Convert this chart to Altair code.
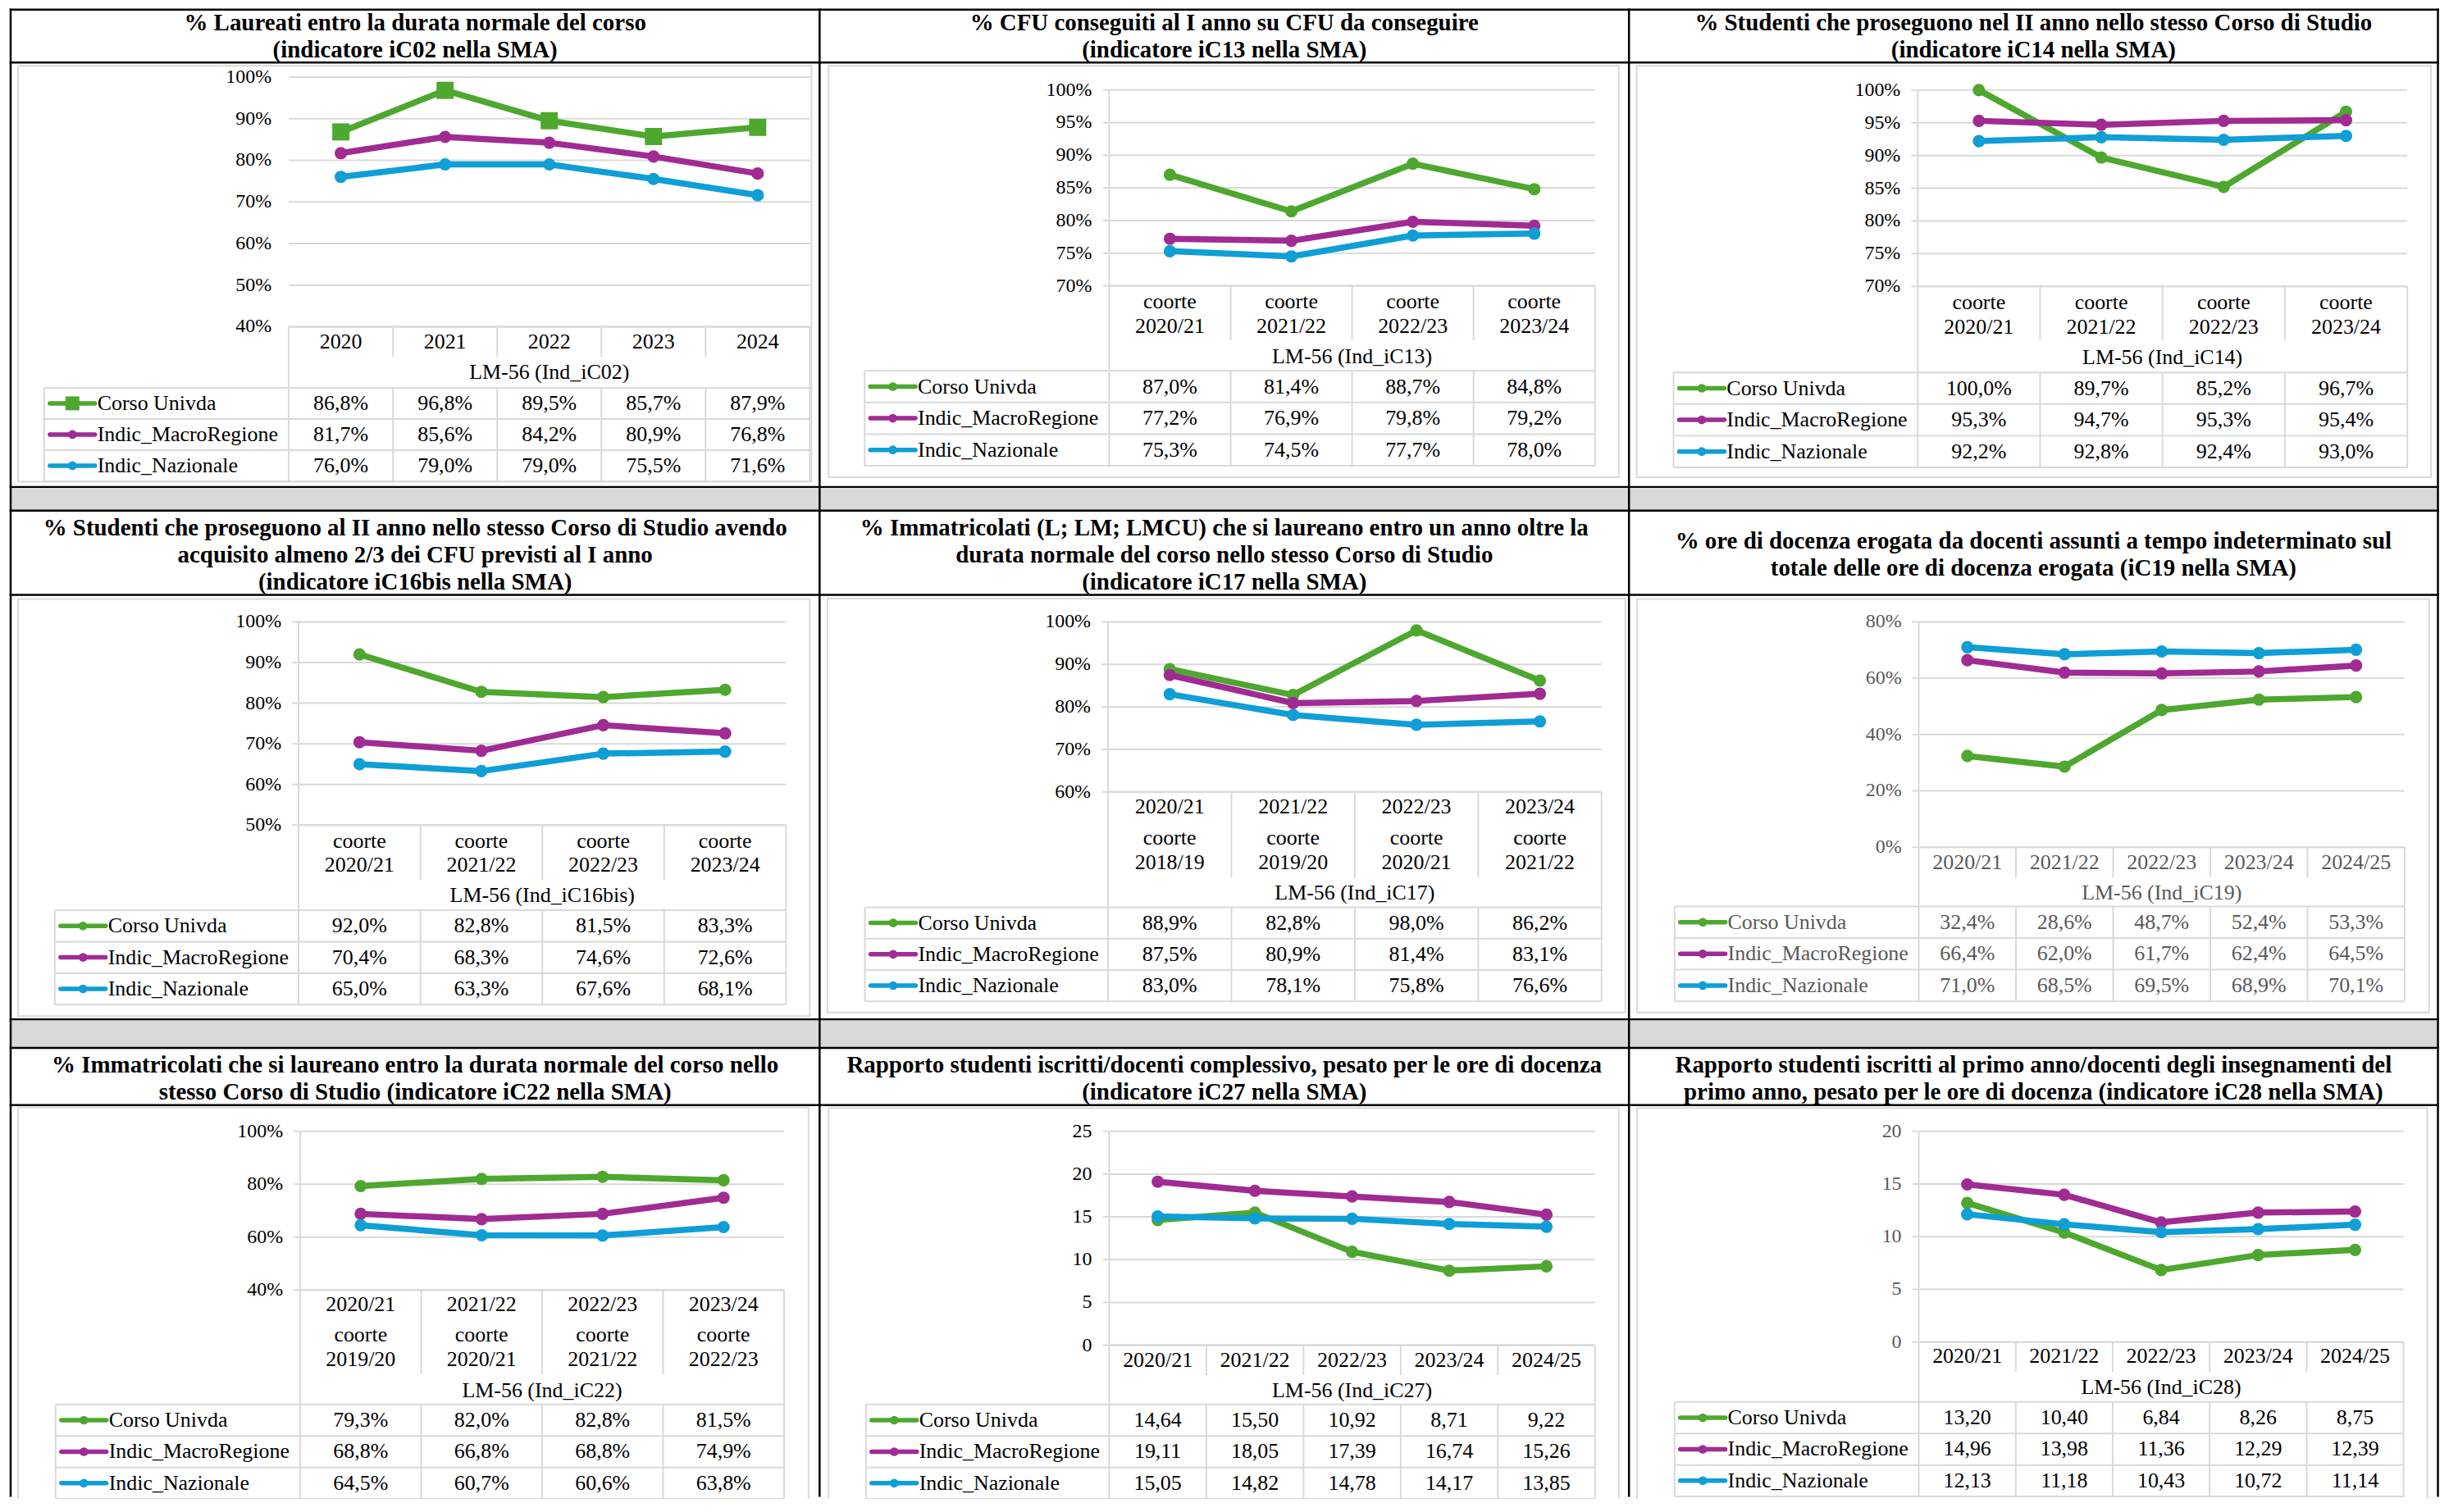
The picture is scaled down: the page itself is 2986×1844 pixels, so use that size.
import altair as alt
import pandas as pd

# ---------------- data ----------------
SERIES = ["Corso Univda", "Indic_MacroRegione", "Indic_Nazionale"]
COLORS = ["#4EA72E", "#A02B93", "#0F9ED5"]

TITLES = [
    "% Laureati entro la durata normale del corso\n(indicatore iC02 nella SMA)",
    "% CFU conseguiti al I anno su CFU da conseguire\n(indicatore iC13 nella SMA)",
    "% Studenti che proseguono nel II anno nello stesso Corso di Studio\n(indicatore iC14 nella SMA)",
    "% Studenti che proseguono al II anno nello stesso Corso di Studio avendo\nacquisito almeno 2/3 dei CFU previsti al I anno\n(indicatore iC16bis nella SMA)",
    "% Immatricolati (L; LM; LMCU) che si laureano entro un anno oltre la\ndurata normale del corso nello stesso Corso di Studio\n(indicatore iC17 nella SMA)",
    "% ore di docenza erogata da docenti assunti a tempo indeterminato sul\ntotale delle ore di docenza erogata (iC19 nella SMA)",
    "% Immatricolati che si laureano entro la durata normale del corso nello\nstesso Corso di Studio (indicatore iC22 nella SMA)",
    "Rapporto studenti iscritti/docenti complessivo, pesato per le ore di docenza\n(indicatore iC27 nella SMA)",
    "Rapporto studenti iscritti al primo anno/docenti degli insegnamenti del\nprimo anno, pesato per le ore di docenza (indicatore iC28 nella SMA)",
]
AXIS_TITLES = ["LM-56 (Ind_iC02)", "LM-56 (Ind_iC13)", "LM-56 (Ind_iC14)",
               "LM-56 (Ind_iC16bis)", "LM-56 (Ind_iC17)", "LM-56 (Ind_iC19)",
               "LM-56 (Ind_iC22)", "LM-56 (Ind_iC27)", "LM-56 (Ind_iC28)"]

CATS_YEARS = ["2020", "2021", "2022", "2023", "2024"]
CATS_COORTE = ["coorte\n2020/21", "coorte\n2021/22", "coorte\n2022/23", "coorte\n2023/24"]
CATS_AY = ["2020/21", "2021/22", "2022/23", "2023/24", "2024/25"]
CATS_IC17 = ["2020/21\ncoorte\n2018/19", "2021/22\ncoorte\n2019/20",
             "2022/23\ncoorte\n2020/21", "2023/24\ncoorte\n2021/22"]
CATS_IC22 = ["2020/21\ncoorte\n2019/20", "2021/22\ncoorte\n2020/21",
             "2022/23\ncoorte\n2021/22", "2023/24\ncoorte\n2022/23"]

IC02_CORSO = [86.8, 96.8, 89.5, 85.7, 87.9]
IC02_MACRO = [81.7, 85.6, 84.2, 80.9, 76.8]
IC02_NAZ = [76.0, 79.0, 79.0, 75.5, 71.6]

IC13_CORSO = [87.0, 81.4, 88.7, 84.8]
IC13_MACRO = [77.2, 76.9, 79.8, 79.2]
IC13_NAZ = [75.3, 74.5, 77.7, 78.0]

IC14_CORSO = [100.0, 89.7, 85.2, 96.7]
IC14_MACRO = [95.3, 94.7, 95.3, 95.4]
IC14_NAZ = [92.2, 92.8, 92.4, 93.0]

IC16_CORSO = [92.0, 82.8, 81.5, 83.3]
IC16_MACRO = [70.4, 68.3, 74.6, 72.6]
IC16_NAZ = [65.0, 63.3, 67.6, 68.1]

IC17_CORSO = [88.9, 82.8, 98.0, 86.2]
IC17_MACRO = [87.5, 80.9, 81.4, 83.1]
IC17_NAZ = [83.0, 78.1, 75.8, 76.6]

IC19_CORSO = [32.4, 28.6, 48.7, 52.4, 53.3]
IC19_MACRO = [66.4, 62.0, 61.7, 62.4, 64.5]
IC19_NAZ = [71.0, 68.5, 69.5, 68.9, 70.1]

IC22_CORSO = [79.3, 82.0, 82.8, 81.5]
IC22_MACRO = [68.8, 66.8, 68.8, 74.9]
IC22_NAZ = [64.5, 60.7, 60.6, 63.8]

IC27_CORSO = [14.64, 15.50, 10.92, 8.71, 9.22]
IC27_MACRO = [19.11, 18.05, 17.39, 16.74, 15.26]
IC27_NAZ = [15.05, 14.82, 14.78, 14.17, 13.85]

IC28_CORSO = [13.20, 10.40, 6.84, 8.26, 8.75]
IC28_MACRO = [14.96, 13.98, 11.36, 12.29, 12.39]
IC28_NAZ = [12.13, 11.18, 10.43, 10.72, 11.14]

TICKS_40_100_10 = [40, 50, 60, 70, 80, 90, 100]
TICKS_70_100_5 = [70, 75, 80, 85, 90, 95, 100]
TICKS_50_100_10 = [50, 60, 70, 80, 90, 100]
TICKS_60_100_10 = [60, 70, 80, 90, 100]
TICKS_0_80_20 = [0, 20, 40, 60, 80]
TICKS_40_100_20 = [40, 60, 80, 100]
TICKS_0_25_5 = [0, 5, 10, 15, 20, 25]
TICKS_0_20_5 = [0, 5, 10, 15, 20]

LABELS_40_100_10 = ["40%", "50%", "60%", "70%", "80%", "90%", "100%"]
LABELS_70_100_5 = ["70%", "75%", "80%", "85%", "90%", "95%", "100%"]
LABELS_50_100_10 = ["50%", "60%", "70%", "80%", "90%", "100%"]
LABELS_60_100_10 = ["60%", "70%", "80%", "90%", "100%"]
LABELS_0_80_20 = ["0%", "20%", "40%", "60%", "80%"]
LABELS_40_100_20 = ["40%", "60%", "80%", "100%"]
LABELS_0_25_5 = ["0", "5", "10", "15", "20", "25"]
LABELS_0_20_5 = ["0", "5", "10", "15", "20"]

# ---------------- layout (page pixels) ----------------
OFF = 8
W, H = 2978, 1820
FONT = "Liberation Serif"
GRID = "#D9D9D9"
BAND = "#D9D9D9"
GRAYTXT = "#595959"

COL_X = [13, 1002, 1991.5, 2980.5]
TITLE_FIRST_Y = [26, 26, 26, 643, 643, 659.5, 1300, 1300, 1300]
TITLE_LH = 33
H_LINES = [6, 74, 593, 622, 725, 1244, 1279, 1349]
BANDS = [(593, 622), (1244, 1279)]

LAYOUT = [
    dict(pl=353, pr=990, ytop=91.7, ybot=397, hbot=434, hl=[415.5], lm=453,
         dtop=471.7, dbot=586, tl=54, axis=False, frame=(22, 78, 992, 586.7)),
    dict(pl=1356, pr=1950, ytop=107.5, ybot=347, hbot=414, hl=[367, 396.6], lm=434,
         dtop=451, dbot=567, tl=1057, axis=True, frame=(1013, 78, 1979, 581)),
    dict(pl=2344.5, pr=2943, ytop=107.7, ybot=347.7, hbot=414, hl=[367.7, 397.4], lm=435,
         dtop=453, dbot=569, tl=2046, axis=True, frame=(2001, 78, 2972, 581)),
    dict(pl=365, pr=961, ytop=758, ybot=1006.6, hbot=1073.5, hl=[1026, 1055.4], lm=1092.4,
         dtop=1110.5, dbot=1226, tl=67, axis=True, frame=(22, 730, 990, 1240)),
    dict(pl=1354.6, pr=1958, ytop=758, ybot=966, hbot=1070.5, hl=[984, 1022, 1052], lm=1089,
         dtop=1107, dbot=1222, tl=1057.4, axis=True, frame=(1011.5, 729.6, 1987, 1235.5)),
    dict(pl=2345.8, pr=2939.8, ytop=758, ybot=1033.5, hbot=1070.5, hl=[1052.4], lm=1089,
         dtop=1106, dbot=1222, tl=2047.2, axis=True, frame=(2001.4, 730, 2969.7, 1235.5)),
    dict(pl=367, pr=958.5, ytop=1381, ybot=1575, hbot=1678, hl=[1592.5, 1630, 1660], lm=1698.4,
         dtop=1715, dbot=1830.5, tl=68, axis=True, frame=(22, 1352, 988.5, 1842)),
    dict(pl=1356, pr=1950, ytop=1381, ybot=1642.5, hbot=1679, hl=[1660.6], lm=1698.4,
         dtop=1715, dbot=1830.5, tl=1058.7, axis=True, frame=(1013, 1352.5, 1979, 1841)),
    dict(pl=2345.8, pr=2938.5, ytop=1381, ybot=1638.7, hbot=1675, hl=[1656], lm=1693.8,
         dtop=1712, dbot=1827.5, tl=2047.2, axis=True, frame=(2001.4, 1352.5, 2967.5, 1838)),
]

PANELS = [
    dict(cats=CATS_YEARS, vals=[IC02_CORSO, IC02_MACRO, IC02_NAZ], ticks=TICKS_40_100_10,
         tlab=LABELS_40_100_10, fmt="pct", square=True, tcol="black", ycol="black"),
    dict(cats=CATS_COORTE, vals=[IC13_CORSO, IC13_MACRO, IC13_NAZ], ticks=TICKS_70_100_5,
         tlab=LABELS_70_100_5, fmt="pct", square=False, tcol="black", ycol="black"),
    dict(cats=CATS_COORTE, vals=[IC14_CORSO, IC14_MACRO, IC14_NAZ], ticks=TICKS_70_100_5,
         tlab=LABELS_70_100_5, fmt="pct", square=False, tcol="black", ycol="black"),
    dict(cats=CATS_COORTE, vals=[IC16_CORSO, IC16_MACRO, IC16_NAZ], ticks=TICKS_50_100_10,
         tlab=LABELS_50_100_10, fmt="pct", square=False, tcol="black", ycol="black"),
    dict(cats=CATS_IC17, vals=[IC17_CORSO, IC17_MACRO, IC17_NAZ], ticks=TICKS_60_100_10,
         tlab=LABELS_60_100_10, fmt="pct", square=False, tcol="black", ycol="black"),
    dict(cats=CATS_AY, vals=[IC19_CORSO, IC19_MACRO, IC19_NAZ], ticks=TICKS_0_80_20,
         tlab=LABELS_0_80_20, fmt="pct", square=False, tcol=GRAYTXT, ycol=GRAYTXT),
    dict(cats=CATS_IC22, vals=[IC22_CORSO, IC22_MACRO, IC22_NAZ], ticks=TICKS_40_100_20,
         tlab=LABELS_40_100_20, fmt="pct", square=False, tcol="black", ycol="black"),
    dict(cats=CATS_AY, vals=[IC27_CORSO, IC27_MACRO, IC27_NAZ], ticks=TICKS_0_25_5,
         tlab=LABELS_0_25_5, fmt="num", square=False, tcol="black", ycol="black"),
    dict(cats=CATS_AY, vals=[IC28_CORSO, IC28_MACRO, IC28_NAZ], ticks=TICKS_0_20_5,
         tlab=LABELS_0_20_5, fmt="num", square=False, tcol="black", ycol=GRAYTXT),
]


def fmt(v, kind):
    if kind == "pct":
        return f"{v:.1f}%".replace(".", ",")
    return f"{v:.2f}".replace(".", ",")


def c(v):
    return v - OFF


ONE = pd.DataFrame({"a": [0]})
LINE_W = 7.5
PT_SIZE = 230
SQ_SIZE = 440


def build_panel(idx):
    P = PANELS[idx]
    L = LAYOUT[idx]
    n = len(P["cats"])
    ymin, ymax = P["ticks"][0], P["ticks"][-1]
    xs = alt.Scale(domain=[-0.5, n - 0.5], range=[c(L["pl"]), c(L["pr"])], nice=False, zero=False)
    ys = alt.Scale(domain=[ymin, ymax], range=[c(L["ybot"]), c(L["ytop"])], nice=False, zero=False)
    ts = alt.Scale(domain=[-0.5, 2.5], range=[c(L["dtop"]), c(L["dbot"])], nice=False, zero=False)
    cs = alt.Scale(domain=SERIES, range=COLORS)

    rows = []
    for si, s in enumerate(SERIES):
        for i, v in enumerate(P["vals"][si]):
            rows.append({"i": i, "s": s, "r": si, "v": v, "lab": fmt(v, P["fmt"])})
    df = pd.DataFrame(rows)
    ticks = pd.DataFrame({"t": P["ticks"], "lab": P["tlab"]})
    leg = pd.DataFrame({"s": SERIES, "r": list(range(len(SERIES)))})

    X = lambda f: alt.X(f, scale=xs, axis=None)
    Y = lambda f: alt.Y(f, scale=ys, axis=None)
    T = lambda f: alt.Y(f, scale=ts, axis=None)
    col = alt.Color("s:N", scale=cs, legend=None)

    # ---- plot part ----
    plot_layers = []
    plot_layers.append(
        alt.Chart(ticks).mark_rule(color=GRID, strokeWidth=2).encode(
            y=Y("t:Q"), x=alt.value(c(L["pl"])), x2=alt.value(c(L["pr"])))
    )
    if L["axis"]:
        plot_layers.append(
            alt.Chart(ONE).mark_rule(color=GRID, strokeWidth=2).encode(
                x=alt.value(c(L["pl"])), y=alt.value(c(L["ytop"])), y2=alt.value(c(L["ybot"])))
        )
        plot_layers.append(
            alt.Chart(ticks).mark_rule(color=GRID, strokeWidth=2).encode(
                y=Y("t:Q"), x=alt.value(c(L["pl"] - 8)), x2=alt.value(c(L["pl"])))
        )
    plot_layers.append(
        alt.Chart(ticks).mark_text(align="right", baseline="middle", font=FONT, fontSize=24,
                                   color=P["ycol"]).encode(
            y=Y("t:Q"), x=alt.value(c(L["pl"] - 21)), text="lab:N")
    )
    plot_layers.append(
        alt.Chart(df).mark_line(strokeWidth=LINE_W, strokeCap="round", strokeJoin="round").encode(
            x=X("i:Q"), y=Y("v:Q"), color=col)
    )
    if P["square"]:
        plot_layers.append(
            alt.Chart(df).transform_filter(alt.datum.s != SERIES[0]).mark_point(
                filled=True, shape="circle", size=PT_SIZE, opacity=1).encode(x=X("i:Q"), y=Y("v:Q"), color=col)
        )
        plot_layers.append(
            alt.Chart(df).transform_filter(alt.datum.s == SERIES[0]).mark_point(
                filled=True, shape="square", size=SQ_SIZE, opacity=1).encode(x=X("i:Q"), y=Y("v:Q"), color=col)
        )
    else:
        plot_layers.append(
            alt.Chart(df).mark_point(filled=True, shape="circle", size=PT_SIZE, opacity=1).encode(
                x=X("i:Q"), y=Y("v:Q"), color=col)
        )
    plot = alt.layer(*plot_layers)

    # ---- table part ----
    bnd = [k - 0.5 for k in range(n + 1)]
    inner = pd.DataFrame({"b": bnd[1:-1]})
    outer = pd.DataFrame({"b": [bnd[0], bnd[-1]]})
    allb = pd.DataFrame({"b": bnd})
    rowb = pd.DataFrame({"b": [-0.5, 0.5, 1.5, 2.5]})
    tl = []
    tl.append(alt.Chart(ONE).mark_rule(color=GRID, strokeWidth=2).encode(
        y=alt.value(c(L["ybot"])), x=alt.value(c(L["pl"])), x2=alt.value(c(L["pr"]))))
    tl.append(alt.Chart(inner).mark_rule(color=GRID, strokeWidth=2).encode(
        x=X("b:Q"), y=alt.value(c(L["ybot"])), y2=alt.value(c(L["hbot"]))))
    tl.append(alt.Chart(outer).mark_rule(color=GRID, strokeWidth=2).encode(
        x=X("b:Q"), y=alt.value(c(L["ybot"])), y2=alt.value(c(L["dtop"]))))
    tl.append(alt.Chart(allb).mark_rule(color=GRID, strokeWidth=2).encode(
        x=X("b:Q"), y=alt.value(c(L["dtop"])), y2=alt.value(c(L["dbot"]))))
    tl.append(alt.Chart(ONE).mark_rule(color=GRID, strokeWidth=2).encode(
        x=alt.value(c(L["tl"])), y=alt.value(c(L["dtop"])), y2=alt.value(c(L["dbot"]))))
    tl.append(alt.Chart(rowb).mark_rule(color=GRID, strokeWidth=2).encode(
        y=T("b:Q"), x=alt.value(c(L["tl"])), x2=alt.value(c(L["pr"]))))
    nlines = len(L["hl"])
    for k in range(nlines):
        hd = pd.DataFrame({"i": list(range(n)), "lab": [cat.split("\n")[k] for cat in P["cats"]]})
        tl.append(alt.Chart(hd).mark_text(font=FONT, fontSize=26, color=P["tcol"], baseline="middle").encode(
            x=X("i:Q"), y=alt.value(c(L["hl"][k])), text="lab:N"))
    lm = pd.DataFrame({"t": [AXIS_TITLES[idx]]})
    tl.append(alt.Chart(lm).mark_text(font=FONT, fontSize=26, color=P["tcol"], baseline="middle").encode(
        x=alt.value(c((L["pl"] + L["pr"]) / 2)), y=alt.value(c(L["lm"])), text="t:N"))
    tl.append(alt.Chart(df).mark_text(font=FONT, fontSize=26, color=P["tcol"], baseline="middle").encode(
        x=X("i:Q"), y=T("r:Q"), text="lab:N"))
    tl.append(alt.Chart(leg).mark_rule(strokeWidth=5.5, strokeCap="round").encode(
        x=alt.value(c(L["tl"] + 7)), x2=alt.value(c(L["tl"] + 62)), y=T("r:Q"), color=col))
    if P["square"]:
        tl.append(alt.Chart(leg).transform_filter(alt.datum.s != SERIES[0]).mark_point(
            filled=True, shape="circle", size=113, opacity=1).encode(
            x=alt.value(c(L["tl"] + 34.5)), y=T("r:Q"), color=col))
        tl.append(alt.Chart(leg).transform_filter(alt.datum.s == SERIES[0]).mark_point(
            filled=True, shape="square", size=289, opacity=1).encode(
            x=alt.value(c(L["tl"] + 34.5)), y=T("r:Q"), color=col))
    else:
        tl.append(alt.Chart(leg).mark_point(filled=True, shape="circle", size=113, opacity=1).encode(
            x=alt.value(c(L["tl"] + 34.5)), y=T("r:Q"), color=col))
    tl.append(alt.Chart(leg).mark_text(font=FONT, fontSize=26, color=P["tcol"], align="left",
                                       baseline="middle").encode(
        x=alt.value(c(L["tl"] + 65)), y=T("r:Q"), text="s:N"))
    table = alt.layer(*tl)

    return alt.layer(plot, table).resolve_scale(y="independent")


# ---------------- decoration ----------------
frames = pd.DataFrame([{"x0": c(L["frame"][0]), "y0": c(L["frame"][1]),
                        "x1": c(L["frame"][2]), "y1": c(L["frame"][3])} for L in LAYOUT])
bands = pd.DataFrame([{"x0": c(COL_X[0]), "x1": c(COL_X[-1]), "y0": c(a), "y1": c(b)} for a, b in BANDS])
blk = []
for y in H_LINES:
    yy = max(c(y), 1.25)
    blk.append({"x0": c(COL_X[0]) - 1.25, "x1": c(COL_X[-1]) + 1.25, "y0": yy - 1.25, "y1": yy + 1.25})
for x in COL_X:
    blk.append({"x0": c(x) - 1.25, "x1": c(x) + 1.25, "y0": 0, "y1": H})
blk = pd.DataFrame(blk)
tit = []
for k, t in enumerate(TITLES):
    r, cc = divmod(k, 3)
    tit.append({"x": c((COL_X[cc] + COL_X[cc + 1]) / 2), "y": c(TITLE_FIRST_Y[k]), "t": t})
tit = pd.DataFrame(tit)


def rect_layer(d, **kw):
    return alt.Chart(d).mark_rect(**kw).encode(
        x=alt.X("x0:Q", scale=None, axis=None), x2="x1:Q",
        y=alt.Y("y0:Q", scale=None, axis=None), y2="y1:Q")


decor = alt.layer(
    rect_layer(bands, fill=BAND),
    rect_layer(frames, fill="white", stroke=GRID, strokeWidth=2),
    rect_layer(blk, fill="black"),
    alt.Chart(tit).mark_text(font=FONT, fontSize=29, fontWeight="bold", lineBreak="\n",
                             lineHeight=TITLE_LH, align="center", baseline="middle", color="black").encode(
        x=alt.X("x:Q", scale=None, axis=None), y=alt.Y("y:Q", scale=None, axis=None), text="t:N"),
)

chart = alt.layer(decor, *[build_panel(i) for i in range(9)]).resolve_scale(
    x="independent", y="independent", color="independent"
).properties(
    width=W, height=H, autosize=alt.AutoSizeParams(type="none"), padding=0, background="white"
).configure_view(stroke=None)

chart.save("out.html", embed_options={"renderer": "svg", "actions": False})
